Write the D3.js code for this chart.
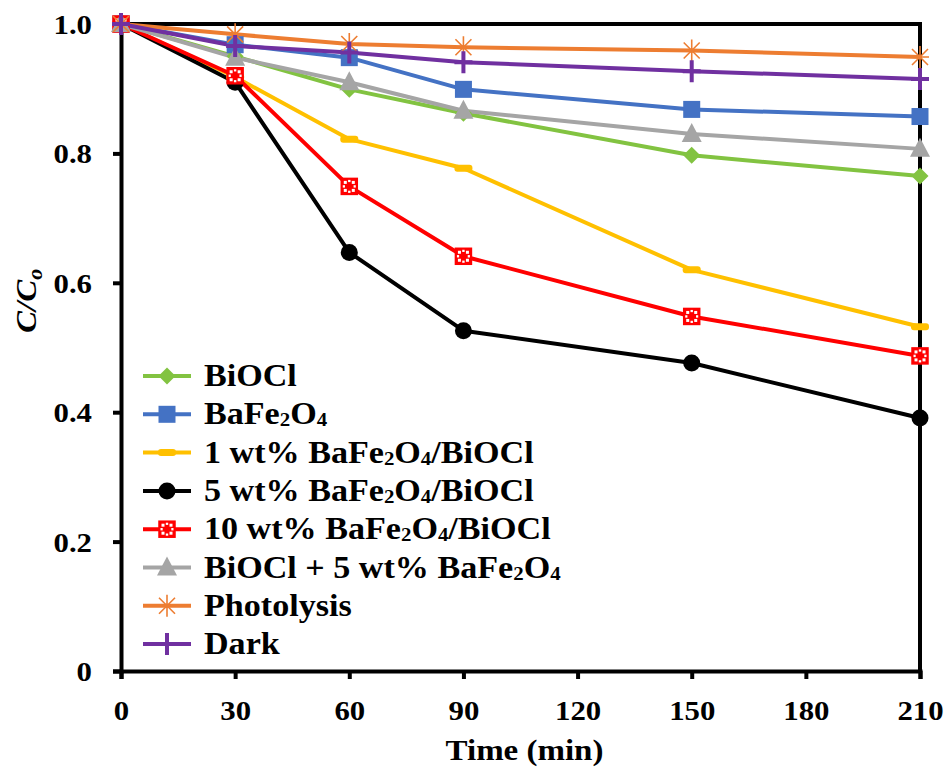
<!DOCTYPE html>
<html>
<head>
<meta charset="utf-8">
<script src="https://cdn.jsdelivr.net/npm/d3@7"></script>
<style>
  html, body { margin: 0; padding: 0; background: #fff; }
  svg { display: block; font-family: "Liberation Serif", "Times New Roman", serif; }
</style>
</head>
<body>
<svg id="chart" width="948" height="769"></svg>
<script>
// Sampling times (min)
const times = [0, 30, 60, 90, 150, 210];

// C/C0 for each sample
const bioclValues      = [1.00, 0.950, 0.899, 0.862, 0.797, 0.765];
const bafe2o4Values    = [1.00, 0.968, 0.948, 0.899, 0.868, 0.857];
const wt1Values        = [1.00, 0.918, 0.822, 0.777, 0.620, 0.532];
const wt5Values        = [1.00, 0.910, 0.647, 0.526, 0.476, 0.391];
const wt10Values       = [1.00, 0.920, 0.749, 0.641, 0.548, 0.487];
const mixValues        = [1.00, 0.948, 0.910, 0.866, 0.830, 0.807];
const photolysisValues = [1.00, 0.984, 0.969, 0.964, 0.959, 0.949];
const darkValues       = [1.00, 0.966, 0.956, 0.941, 0.927, 0.915];

const xTicks = [0, 30, 60, 90, 120, 150, 180, 210];
const yTicks = [0, 0.2, 0.4, 0.6, 0.8, 1.0];

// legend text parts: [text, isSubscript]
const series = [
  { name: [["BiOCl", false]], values: bioclValues, color: "#82c341", marker: "diamond" },
  { name: [["BaFe", false], ["2", true], ["O", false], ["4", true]], values: bafe2o4Values, color: "#4472c4", marker: "square" },
  { name: [["1 wt% BaFe", false], ["2", true], ["O", false], ["4", true], ["/BiOCl", false]], values: wt1Values, color: "#ffc000", marker: "dash" },
  { name: [["5 wt% BaFe", false], ["2", true], ["O", false], ["4", true], ["/BiOCl", false]], values: wt5Values, color: "#000000", marker: "circle" },
  { name: [["10 wt% BaFe", false], ["2", true], ["O", false], ["4", true], ["/BiOCl", false]], values: wt10Values, color: "#ff0000", marker: "patterned" },
  { name: [["BiOCl + 5 wt% BaFe", false], ["2", true], ["O", false], ["4", true]], values: mixValues, color: "#a5a5a5", marker: "triangle" },
  { name: [["Photolysis", false]], values: photolysisValues, color: "#ed7d31", marker: "asterisk" },
  { name: [["Dark", false]], values: darkValues, color: "#7030a0", marker: "plus" }
];

const svg = d3.select("#chart");
const margin = { left: 121, right: 28, top: 24, bottom: 98 };
const W = 948, H = 769;
const stretch = 1.1; // horizontal widening of the serif lettering

const x = d3.scaleLinear().domain([0, 210]).range([margin.left, W - margin.right]);
const y = d3.scaleLinear().domain([0, 1]).range([H - margin.bottom, margin.top]);

// Plot frame (top and right)
svg.append("path")
  .attr("d", `M${x(0)},${y(1)}H${x(210)}V${y(0)}`)
  .attr("fill", "none").attr("stroke", "#000").attr("stroke-width", 4);

// Axes
const xAxis = svg.append("g").attr("transform", `translate(0,${y(0)})`)
  .call(d3.axisBottom(x).tickValues(xTicks).tickFormat(d3.format("d")).tickSizeOuter(0).tickSize(8));
const yAxis = svg.append("g").attr("transform", `translate(${x(0)},0)`)
  .call(d3.axisLeft(y).tickValues(yTicks).tickFormat(d => d === 0 ? "0" : d3.format(".1f")(d)).tickSizeOuter(0).tickSize(8));

[xAxis, yAxis].forEach(g => {
  g.select(".domain").attr("stroke", "#000").attr("stroke-width", 4);
  g.selectAll(".tick line").attr("stroke", "#000").attr("stroke-width", 4);
  g.selectAll(".tick text")
    .attr("fill", "#000")
    .style("font-family", "'Liberation Serif', serif")
    .style("font-weight", "bold")
    .style("font-size", "28px")
    .attr("transform", `scale(${stretch},1)`);
});
xAxis.selectAll(".tick text").attr("x", 0).attr("y", 49).attr("dy", 0);
yAxis.selectAll(".tick text").attr("x", -29 / stretch).attr("dy", "0.34em");

// Axis titles
svg.append("text")
  .attr("transform", `translate(${(x(0) + x(210)) / 2 + 4},760) scale(${stretch},1)`)
  .attr("text-anchor", "middle")
  .style("font-weight", "bold").style("font-size", "30px")
  .text("Time (min)");

const yt = svg.append("text")
  .attr("transform", `translate(36,${y(0.572)}) rotate(-90) scale(${stretch},1)`)
  .attr("text-anchor", "middle")
  .style("font-weight", "bold").style("font-style", "italic").style("font-size", "30px");
yt.append("tspan").text("C/C");
yt.append("tspan").attr("dy", 6).style("font-size", "20px").text("o");

// Marker drawing
function drawMarker(g, type, color) {
  switch (type) {
    case "diamond":
      g.append("path").attr("d", "M0,-8.5L8.5,0L0,8.5L-8.5,0Z").attr("fill", color);
      break;
    case "square":
      g.append("rect").attr("x", -8.5).attr("y", -8.5).attr("width", 17).attr("height", 17).attr("fill", color);
      break;
    case "dash":
      g.append("rect").attr("x", -9).attr("y", -3.5).attr("width", 18).attr("height", 7).attr("rx", 3).attr("fill", color);
      break;
    case "circle":
      g.append("circle").attr("r", 8.5).attr("fill", color);
      break;
    case "patterned":
      g.append("rect").attr("x", -8).attr("y", -8).attr("width", 16).attr("height", 16)
        .attr("fill", color).attr("stroke", color).attr("stroke-width", 1.5);
      // white checker-like pattern inside
      [[-5.5,-5.5],[2.5,-5.5],[-5.5,2.5],[2.5,2.5]].forEach(([a, b]) => {
        g.append("rect").attr("x", a).attr("y", b).attr("width", 3).attr("height", 3).attr("fill", "#fff");
      });
      g.append("rect").attr("x", -1.2).attr("y", -6.5).attr("width", 2.4).attr("height", 2.2).attr("fill", "#fff");
      g.append("rect").attr("x", -1.2).attr("y", 4.3).attr("width", 2.4).attr("height", 2.2).attr("fill", "#fff");
      g.append("rect").attr("x", -6.5).attr("y", -1.2).attr("width", 2.2).attr("height", 2.4).attr("fill", "#fff");
      g.append("rect").attr("x", 4.3).attr("y", -1.2).attr("width", 2.2).attr("height", 2.4).attr("fill", "#fff");
      break;
    case "triangle":
      g.append("path").attr("d", "M0,-11L10,8L-10,8Z").attr("fill", color);
      break;
    case "asterisk":
      g.append("path").attr("d", "M-9,0H9M0,-11V11M-8,-8L8,8M-8,8L8,-8")
        .attr("stroke", color).attr("stroke-width", 1.6).attr("fill", "none");
      break;
    case "plus":
      g.append("path").attr("d", "M-9,0H9M0,-11V11")
        .attr("stroke", color).attr("stroke-width", 4).attr("fill", "none");
      break;
  }
}

// Lines and markers
const line = d3.line().x((d, i) => x(times[i])).y(d => y(d));
series.forEach(s => {
  svg.append("path").datum(s.values)
    .attr("d", line).attr("fill", "none")
    .attr("stroke", s.color).attr("stroke-width", 4).attr("stroke-linejoin", "round");
});
series.forEach(s => {
  s.values.forEach((v, i) => {
    const g = svg.append("g").attr("transform", `translate(${x(times[i])},${y(v)})`);
    drawMarker(g, s.marker, s.color);
  });
});

// Legend
const legendY0 = 376, legendStep = 38.3;
series.forEach((s, i) => {
  const ly = legendY0 + i * legendStep;
  const g = svg.append("g").attr("transform", `translate(0,${ly})`);
  g.append("line").attr("x1", 143).attr("x2", 191).attr("y1", 0).attr("y2", 0)
    .attr("stroke", s.color).attr("stroke-width", 4);
  const mg = g.append("g").attr("transform", "translate(167,0)");
  drawMarker(mg, s.marker, s.color);
  const t = g.append("text").attr("transform", `translate(204,10) scale(${stretch},1)`)
    .style("font-weight", "bold").style("font-size", "31px").attr("fill", "#000");
  s.name.forEach(([txt, sub]) => {
    const ts = t.append("tspan").text(txt);
    if (sub) ts.style("font-size", "19px").attr("dy", 2);
    else if (t.selectAll("tspan").size() > 1) ts.attr("dy", -2);
  });
});
</script>
</body>
</html>
